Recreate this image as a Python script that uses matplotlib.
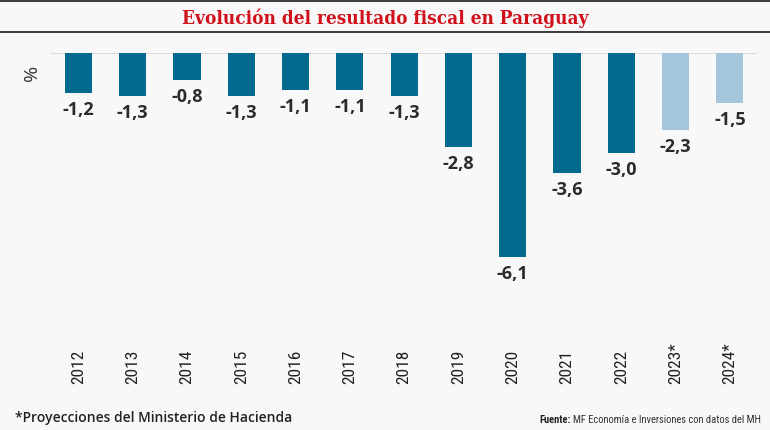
import matplotlib
matplotlib.use("Agg")
import matplotlib.pyplot as plt
from matplotlib.lines import Line2D
from matplotlib.transforms import blended_transform_factory

years = ["2012", "2013", "2014", "2015", "2016", "2017", "2018", "2019",
         "2020", "2021", "2022", "2023*", "2024*"]
values = [-1.2, -1.3, -0.8, -1.3, -1.1, -1.1, -1.3, -2.8, -6.1, -3.6, -3.0, -2.3, -1.5]
projected = [False] * 11 + [True, True]
value_labels = [f"{v:.1f}".replace(".", ",") for v in values]

W, H = 770, 431
DARK = "#016a8e"
LIGHT = "#a4c5dc"
BG = "#f8f8f8"

fig = plt.figure(figsize=(W / 100, H / 100), dpi=100, facecolor=BG)

def fx(px):
    return px / W

def fy(py):
    return 1 - py / H

# title bar
for yy in (2, 33):
    fig.add_artist(Line2D([0, 1], [fy(yy), fy(yy)], color="#3a3a3a", lw=1.4,
                          transform=fig.transFigure))
fig.text(0.5, fy(18), "Evolución del resultado fiscal en Paraguay",
         ha="center", va="center", color="#d0111b", fontsize=13.6,
         fontweight="bold", family=["DejaVu Serif"], fontstretch="condensed")

ax_top, ax_bot = 54, 300
ax = fig.add_axes([fx(50), fy(ax_bot), fx(707), (ax_bot - ax_top) / H])
ax.set_facecolor(BG)
x = list(range(len(years)))
colors = [LIGHT if p else DARK for p in projected]
ax.bar(x, values, width=0.5, color=colors, zorder=2)
ax.axhline(0, color="#dcdcdc", lw=1.5, zorder=1)
ax.set_xlim(-0.525, 12.5)
ax.set_ylim(-(ax_bot - ax_top) / ((258 - 54) / 6.1), 0)
ax.axis("off")

for xi, v, lab in zip(x, values, value_labels):
    ax.annotate(lab, (xi, v), xytext=(0, -5), textcoords="offset points",
                ha="center", va="top", fontsize=13, fontweight="bold",
                color="#2b2b2b", family=["Open Sans", "DejaVu Sans"])

tr = blended_transform_factory(ax.transData, fig.transFigure)
for xi, lab in zip(x, years):
    ax.text(xi, fy(384), lab, transform=tr, rotation=90, ha="center", va="bottom",
            fontsize=12.5, color="#222222",
            family=["Roboto Condensed", "DejaVu Sans"])

fig.text(fx(32), fy(73), "%", rotation=90, ha="center", va="center",
         fontsize=14, color="#333333", family=["Open Sans", "DejaVu Sans"])

fig.text(fx(15), fy(422), "*Proyecciones del Ministerio de Hacienda",
         ha="left", va="baseline", fontsize=10, fontweight="semibold",
         color="#222222", family=["Open Sans", "DejaVu Sans"])

src = fig.text(fx(761), fy(423.5), "MF Economía e Inversiones con datos del MH",
               ha="right", va="baseline", fontsize=7.6, color="#333333",
               family=["Roboto Condensed", "DejaVu Sans"])
fig.canvas.draw()
bb = src.get_window_extent()
fig.text(bb.x0 / W - fx(2.5), fy(423.5), "Fuente:", ha="right", va="baseline",
         fontsize=7.6, fontweight="bold", color="#222222",
         family=["Roboto Condensed", "DejaVu Sans"])

fig.savefig("out.png", dpi=100, facecolor=BG)
